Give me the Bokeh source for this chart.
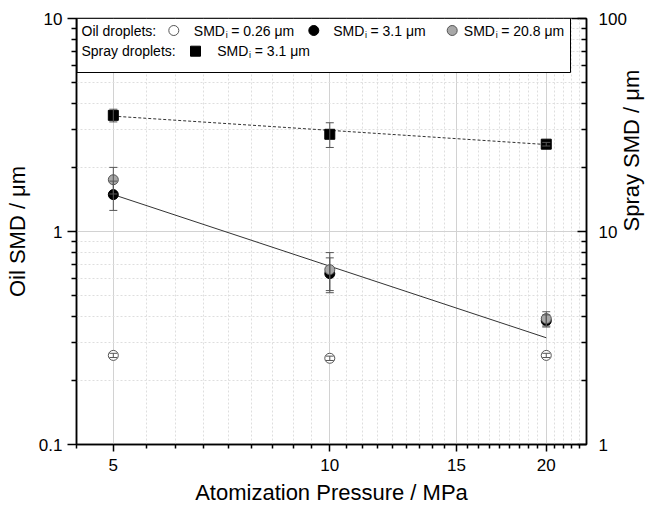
import numpy as np
from bokeh.plotting import figure
from bokeh.models import Range1d, LogAxis, FixedTicker, CustomJSTickFormatter, LogScale
from bokeh.embed import file_html
from bokeh.resources import INLINE
from bokeh.core.properties import value

# ---------------- data ----------------
pressure = [5, 10, 20]
oil_026 = [0.262, 0.254, 0.262]
oil_026_err = [0.006, 0.006, 0.006]
oil_31 = [1.49, 0.634, 0.381]
oil_31_err = [0.234, 0.118, 0.025]
oil_208 = [1.75, 0.662, 0.39]
oil_208_err = [0.25, 0.134, 0.03]
spray_31 = [35.1, 28.6, 25.7]
spray_31_err = [2.4, 3.8, 0.5]
fit_x = [5, 20]
fit_oil = [1.49, 0.317]
fit_spray = [34.8, 25.6]

x_ticks = [5, 10, 15, 20]
y_ticks = [0.1, 1, 10]
y2_ticks = [1, 10, 100]

x_minor = [5 + k * 5 / 9 for k in range(-1, 33) if k % 9 != 0]
y_minor = [m * d for d in (0.1, 1) for m in range(2, 10)]
y2_minor = [m * d for d in (1, 10) for m in range(2, 10)]

FONT = "Liberation Sans"
XMIN, XMAX = 4.444, 22.75
FW, FH = 510, 426

p = figure(x_axis_type="log", y_axis_type="log",
           x_range=Range1d(XMIN, XMAX), y_range=Range1d(0.1, 10),
           frame_width=FW, frame_height=FH,
           min_border_left=76, min_border_right=40, min_border_top=18, min_border_bottom=40,
           output_backend="svg", toolbar_location=None,
           background_fill_color="white", border_fill_color="white")
p.extra_y_ranges = {"spray": Range1d(1, 100)}
p.extra_y_scales = {"spray": LogScale()}

fmt = CustomJSTickFormatter(code="return tick.toString();")
xt = FixedTicker(ticks=x_ticks, minor_ticks=x_minor)
yt = FixedTicker(ticks=y_ticks, minor_ticks=y_minor)
p.xaxis.ticker = xt
p.yaxis.ticker = yt
p.xgrid.ticker = xt
p.ygrid.ticker = yt
p.xaxis.formatter = fmt
p.yaxis.formatter = fmt

for ax in (p.xaxis[0], p.yaxis[0]):
    ax.axis_line_width = 1.5
    ax.major_tick_line_width = 1.5
    ax.minor_tick_line_width = 1.5
    ax.major_tick_in = 0
    ax.minor_tick_in = 0
    ax.major_label_text_font = FONT
    ax.major_label_text_font_size = "17px"
    ax.major_label_text_color = "black"
    ax.axis_label_text_font = FONT
    ax.axis_label_text_font_size = "22px"
    ax.axis_label_text_font_style = "normal"
    ax.axis_label_text_color = "black"

p.xaxis.major_tick_out = 7
p.xaxis.minor_tick_out = 4
p.xaxis.major_label_standoff = 7
p.xaxis.axis_label = "Atomization Pressure / MPa"
p.xaxis.axis_label_standoff = 6
p.yaxis.major_tick_out = 9
p.yaxis.minor_tick_out = 5
p.yaxis.major_label_standoff = 5
p.yaxis.axis_label = "Oil SMD / μm"
p.yaxis.axis_label_standoff = 6

# right axis with ticks and tick labels
ry = LogAxis(y_range_name="spray",
             ticker=FixedTicker(ticks=y2_ticks, minor_ticks=y2_minor),
             formatter=CustomJSTickFormatter(code="return tick.toString();"))
ry.axis_line_width = 1.5
ry.major_tick_line_width = 1.5
ry.minor_tick_line_width = 1.5
ry.major_tick_in = 9
ry.major_tick_out = 0
ry.minor_tick_in = 5
ry.minor_tick_out = 0
ry.major_label_standoff = 12
ry.major_label_text_font = FONT
ry.major_label_text_font_size = "17px"
ry.major_label_text_color = "black"
p.add_layout(ry, "right")

# second right axis only carrying the title (reads bottom-to-top)
ry2 = LogAxis(y_range_name="spray", ticker=FixedTicker(ticks=[]))
ry2.axis_line_color = None
ry2.major_tick_in = 0
ry2.major_tick_out = 0
ry2.minor_tick_in = 0
ry2.minor_tick_out = 0
ry2.major_label_standoff = 0
ry2.axis_label = "Spray SMD / μm"
ry2.axis_label_text_font = FONT
ry2.axis_label_text_font_size = "22px"
ry2.axis_label_text_font_style = "normal"
ry2.axis_label_text_color = "black"
ry2.axis_label_text_align = "center"
ry2.axis_label_standoff = 2
ry2.axis_label_orientation = np.pi / 2
p.add_layout(ry2, "right")

p.xgrid.grid_line_color = "#d2d2d2"
p.ygrid.grid_line_color = "#d2d2d2"
p.xgrid.minor_grid_line_color = "#dedede"
p.ygrid.minor_grid_line_color = "#dedede"
p.xgrid.minor_grid_line_dash = "2 2"
p.ygrid.minor_grid_line_dash = "2 2"
p.outline_line_color = "black"
p.outline_line_width = 1.5

# fit lines
p.line(fit_x, fit_oil, line_color="#333333", line_width=1)
p.line(fit_x, fit_spray, line_color="#333333", line_width=1, line_dash="3 2", y_range_name="spray")

# markers
p.scatter(pressure, oil_026, marker="circle", size=10, fill_color="white", line_color="#555555")
p.scatter(pressure, oil_31, marker="circle", size=10, fill_color="black", line_color="black")
p.scatter(pressure, oil_208, marker="circle", size=10, fill_color="#a8a8a8", line_color="#555555")
p.scatter(pressure, spray_31, marker="square", size=10, fill_color="black", line_color="black",
          y_range_name="spray")

# error bars
def errbars(ys, es, rng="default"):
    lo = [y - e for y, e in zip(ys, es)]
    hi = [y + e for y, e in zip(ys, es)]
    p.segment(pressure, lo, pressure, hi, line_color="#555555", line_width=1, y_range_name=rng)
    p.scatter(pressure, lo, marker="dash", size=8, line_color="#555555", line_width=1, y_range_name=rng)
    p.scatter(pressure, hi, marker="dash", size=8, line_color="#555555", line_width=1, y_range_name=rng)

errbars(oil_026, oil_026_err)
errbars(oil_208, oil_208_err)
errbars(oil_31, oil_31_err)
errbars(spray_31, spray_31_err, "spray")

# legend (laid out in frame pixels)
LX0, LX1 = np.log10(XMIN), np.log10(XMAX)
def fx(px):
    return 10 ** (LX0 + px / FW * (LX1 - LX0))
def fy(py):
    return 10 ** (1 - py / FH * 2)

p.quad(left=[fx(0.5)], right=[fx(494)], top=[fy(0)], bottom=[fy(54)],
       fill_color="white", line_color="black", line_width=1)

r1, r2 = 12, 32.7
p.scatter([fx(97.3)], [fy(r1)], marker="circle", size=10, fill_color="white", line_color="#555555")
p.scatter([fx(237.3)], [fy(r1)], marker="circle", size=10, fill_color="black", line_color="black")
p.scatter([fx(375.7)], [fy(r1)], marker="circle", size=10, fill_color="#a8a8a8", line_color="#555555")
p.scatter([fx(119)], [fy(r2)], marker="square", size=10, fill_color="black", line_color="black")

main_txt = [("Oil droplets:", 5, r1), ("SMD", 117.3, r1), ("= 0.26 μm", 154.7, r1),
            ("SMD", 256.7, r1), ("= 3.1 μm", 294, r1),
            ("SMD", 387.3, r1), ("= 20.8 μm", 424.7, r1),
            ("Spray droplets:", 5, r2), ("SMD", 140.7, r2), ("= 3.1 μm", 178.3, r2)]
p.text(x=[fx(t[1]) for t in main_txt], y=[fy(t[2]) for t in main_txt], text=[t[0] for t in main_txt],
       text_font=value(FONT), text_font_size="14px", text_baseline="middle", text_align="left",
       text_color="black")
sub_txt = [(149.2, r1), (288.6, r1), (419.2, r1), (172.6, r2)]
p.text(x=[fx(t[0]) for t in sub_txt], y=[fy(t[1] + 4) for t in sub_txt], text=["i"] * len(sub_txt),
       text_font=value(FONT), text_font_size="9px", text_baseline="middle", text_align="left",
       text_color="black")

open("out.html", "w").write(file_html(p, INLINE))
